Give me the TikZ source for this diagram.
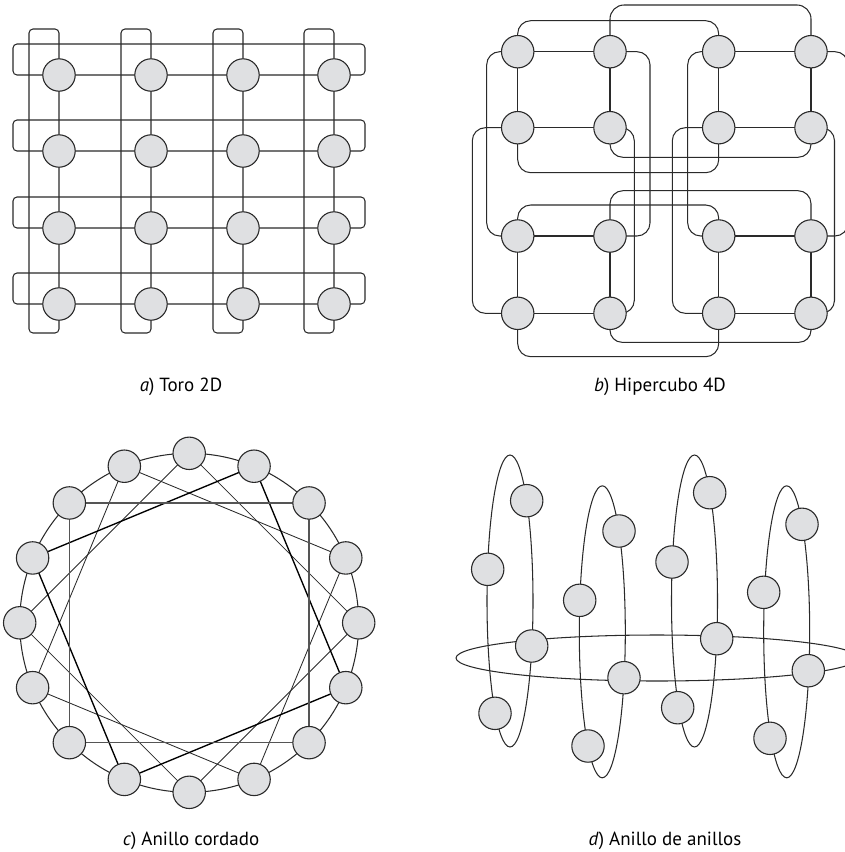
\documentclass[tikz,border=0pt]{standalone}
\usepackage{fontspec}
\setmainfont{PT Sans}
\pgfdeclarelayer{bg}
\pgfsetlayers{bg,main}
\definecolor{nodefill}{HTML}{DFE0E2}
\definecolor{ln}{HTML}{2A2A2A}
\definecolor{lngray}{HTML}{555555}
\tikzset{
  pe/.style={circle, draw=ln, fill=nodefill, line width=1.1pt, minimum size=32.4pt, inner sep=0pt},
  ed/.style={draw=ln, line width=1.05pt},
  thinch/.style={draw=ln, line width=0.85pt},
  boldch/.style={draw=black, line width=1.35pt},
  graych/.style={draw=lngray, line width=1.3pt},
  captext/.style={font=\fontsize{19}{22}\selectfont, anchor=base, inner sep=0pt}
}
\begin{document}
\begin{tikzpicture}[x=1pt,y=-1pt]
\useasboundingbox (0,0) rectangle (844,852);
\clip (0,0) rectangle (844,852);

% ---------------- a) Toro 2D ----------------
\foreach \c/\x in {1/59,2/151,3/243,4/334}
  \foreach \r/\y in {1/75,2/151,3/228,4/304}
    \node[pe] (a-\c-\r) at (\x,\y) {};
\begin{pgfonlayer}{bg}
\foreach \r/\y in {1/75,2/151,3/228,4/304}
  \draw[ed, rounded corners=4] (a-1-\r.center) -- (13,\y) -- (13,\y-31) -- (365,\y-31) -- (365,\y) -- (a-4-\r.center) -- (a-3-\r.center) -- (a-2-\r.center) -- (a-1-\r.center);
\foreach \c/\x in {1/59,2/151,3/243,4/334}
  \draw[ed, rounded corners=4] (a-\c-1.center) -- (\x,29) -- (\x-30,29) -- (\x-30,333) -- (\x,333) -- (a-\c-4.center) -- (a-\c-3.center) -- (a-\c-2.center) -- (a-\c-1.center);
\end{pgfonlayer}

% ---------------- b) Hipercubo 4D ----------------
\foreach \c/\x in {1/517.7,2/610,3/718.7,4/811}
  \foreach \r/\y in {1/51.7,2/127.7,3/236,4/313.3}
    \node[pe] (b-\c-\r) at (\x,\y) {};
\begin{pgfonlayer}{bg}
% squares
\foreach \c/\d in {1/2,3/4}
  \foreach \r/\s in {1/2,3/4} {
    \draw[ed] (b-\c-\r.center) -- (b-\d-\r.center);
    \draw[ed] (b-\c-\s.center) -- (b-\d-\s.center);
    \draw[ed] (b-\c-\r.center) -- (b-\c-\s.center);
    \draw[ed] (b-\d-\r.center) -- (b-\d-\s.center);
  }
% horizontal quadrant links
\draw[ed, rounded corners=13] (b-1-1.center) -- (517.7,20.7) -- (718.7,20.7) -- (b-3-1.center);
\draw[ed, rounded corners=14] (b-2-1.center) -- (610,5) -- (811,5) -- (b-4-1.center);
\draw[ed, rounded corners=13] (b-1-2.center) -- (517.7,172.7) -- (718.7,172.7) -- (b-3-2.center);
\draw[ed, rounded corners=13] (b-2-2.center) -- (610,157.3) -- (811,157.3) -- (b-4-2.center);
\draw[ed, rounded corners=13] (b-1-3.center) -- (517.7,205) -- (718.7,205) -- (b-3-3.center);
\draw[ed, rounded corners=13] (b-2-3.center) -- (610,190.7) -- (811,190.7) -- (b-4-3.center);
\draw[ed, rounded corners=13] (b-1-4.center) -- (517.7,356.7) -- (718.7,356.7) -- (b-3-4.center);
\draw[ed, rounded corners=12] (b-2-4.center) -- (610,342.3) -- (811,342.3) -- (b-4-4.center);
% vertical quadrant links
\draw[ed, rounded corners=13] (b-1-1.center) -- (486.7,51.7) -- (486.7,236) -- (b-1-3.center);
\draw[ed, rounded corners=13] (b-1-2.center) -- (472.3,127.7) -- (472.3,313.3) -- (b-1-4.center);
\draw[ed, rounded corners=13] (b-2-1.center) -- (650,51.7) -- (650,236) -- (b-2-3.center);
\draw[ed, rounded corners=13] (b-2-2.center) -- (634.3,127.7) -- (634.3,313.3) -- (b-2-4.center);
\draw[ed, rounded corners=13] (b-3-1.center) -- (687.7,51.7) -- (687.7,236) -- (b-3-3.center);
\draw[ed, rounded corners=13] (b-3-2.center) -- (672.3,127.7) -- (672.3,313.3) -- (b-3-4.center);
\draw[ed, rounded corners=13] (b-4-1.center) -- (848,51.7) -- (848,236) -- (b-4-3.center);
\draw[ed, rounded corners=13] (b-4-2.center) -- (834.5,127.7) -- (834.5,313.3) -- (b-4-4.center);
\end{pgfonlayer}

% ---------------- c) Anillo cordado ----------------
\foreach \k in {0,...,15}
  \node[pe] (c-\k) at ({189.2+169.5*cos(90-22.5*\k)}, {622.8-169.5*sin(90-22.5*\k)}) {};
\begin{pgfonlayer}{bg}
\draw[ed] (189.2,622.8) circle[radius=169.5];
\foreach \k in {0,3,4,7,8,11,12,15} {
  \pgfmathtruncatemacro\m{mod(\k+4,16)}
  \draw[thinch] (c-\k.center) -- (c-\m.center);
}
\foreach \k in {1,5,9,13} {
  \pgfmathtruncatemacro\m{mod(\k+4,16)}
  \draw[boldch] (c-\k.center) -- (c-\m.center);
}
\foreach \k in {2,6,10,14} {
  \pgfmathtruncatemacro\m{mod(\k+4,16)}
  \draw[graych] (c-\k.center) -- (c-\m.center);
}
\end{pgfonlayer}

% ---------------- d) Anillo de anillos ----------------
\begin{pgfonlayer}{bg}
\draw[ed] (657,658) ellipse[x radius=201, y radius=23];
\draw[ed] (510,601) ellipse[x radius=23, y radius=146];
\draw[ed] (602.3,631.8) ellipse[x radius=23, y radius=146];
\draw[ed] (694.5,601) ellipse[x radius=23, y radius=146];
\draw[ed] (786.7,631.8) ellipse[x radius=23, y radius=146];
\end{pgfonlayer}
\node[pe] (d-1-1) at (526.7,500.7) {};
\node[pe] (d-1-2) at (487.7,569.3) {};
\node[pe] (d-1-3) at (531.7,646) {};
\node[pe] (d-1-4) at (495,713.3) {};
\node[pe] (d-2-1) at (619,531) {};
\node[pe] (d-2-2) at (579.7,600.3) {};
\node[pe] (d-2-3) at (624,677.7) {};
\node[pe] (d-2-4) at (588,746) {};
\node[pe] (d-3-1) at (709.7,492.7) {};
\node[pe] (d-3-2) at (672,562) {};
\node[pe] (d-3-3) at (716.7,638.7) {};
\node[pe] (d-3-4) at (677.7,707.7) {};
\node[pe] (d-4-1) at (802,524.3) {};
\node[pe] (d-4-2) at (763.7,592.3) {};
\node[pe] (d-4-3) at (808.3,670.7) {};
\node[pe] (d-4-4) at (770,738.3) {};

% ---------------- captions ----------------
\node[captext] (capa) at (181,391) {\textit{a}) Toro 2D};
\node[captext] (capb) at (660,391) {\textit{b}) Hipercubo 4D};
\node[captext] (capc) at (191,845) {\textit{c}) Anillo cordado};
\node[captext] (capd) at (665,845) {\textit{d}) Anillo de anillos};
\end{tikzpicture}
\end{document}
